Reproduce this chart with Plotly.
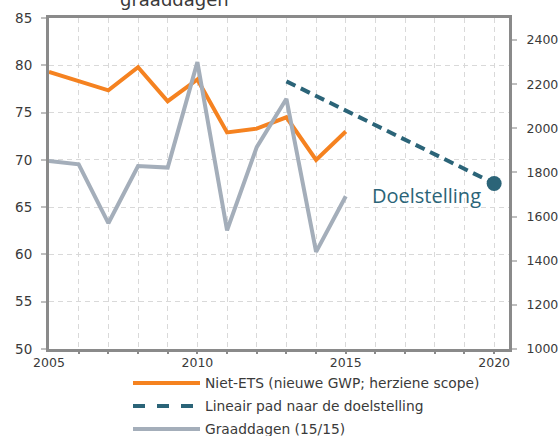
import plotly.graph_objects as go

years = [2005, 2006, 2007, 2008, 2009, 2010, 2011, 2012, 2013, 2014, 2015]
niet_ets = [79.3, 78.3, 77.35, 79.8, 76.2, 78.5, 72.9, 73.3, 74.5, 70.0, 73.0]
graaddagen = [1852, 1837, 1570, 1829, 1822, 2300, 1538, 1915, 2134, 1440, 1692]
pad_years = [2013, 2020]
pad_values = [78.3, 67.5]

legend_labels = ["Niet-ETS (nieuwe GWP; herziene scope)",
                 "Lineair pad naar de doelstelling",
                 "Graaddagen (15/15)"]
target_label = "Doelstelling"
title_text = "graaddagen"

ORANGE = "#f58220"
TEAL = "#2b6478"
GREY = "#a4aeba"
AXIS = "#8a8a8a"
GRID = "#d9d9d9"
TXT = "#3a3a3a"
FONT = "DejaVu Sans"

fig = go.Figure()
# invisible trace to activate the secondary x axis (yearly grid + ticks)
fig.add_trace(go.Scatter(x=[2005], y=[50], xaxis="x2", mode="markers",
                         marker=dict(opacity=0), showlegend=False, hoverinfo="skip"))
fig.add_trace(go.Scatter(x=years, y=graaddagen, yaxis="y2", mode="lines",
                         line=dict(color=GREY, width=4), showlegend=False))
fig.add_trace(go.Scatter(x=years, y=niet_ets, mode="lines",
                         line=dict(color=ORANGE, width=4), showlegend=False))
fig.add_trace(go.Scatter(x=pad_years, y=pad_values, mode="lines",
                         line=dict(color=TEAL, width=4, dash="10px,6px"),
                         showlegend=False))
fig.add_trace(go.Scatter(x=pad_years[-1:], y=pad_values[-1:], mode="markers",
                         marker=dict(color=TEAL, size=15), showlegend=False))

# plot area geometry (pixels)
L, R, T, B = 49, 509, 17.5, 349
W, H = 560, 436

def px(x):
    return (x - L) / (R - L)

def py(y):
    return (B - y) / (B - T)

shapes = []
annotations = []
styles = [dict(color=ORANGE, width=4), dict(color=TEAL, width=4, dash="dash"),
          dict(color=GREY, width=4)]
rows = [383, 406, 429]
for lab, st, yy in zip(legend_labels, styles, rows):
    shapes.append(dict(type="line", xref="paper", yref="paper",
                       x0=px(133), x1=px(200), y0=py(yy), y1=py(yy), line=st))
    annotations.append(dict(text=lab, xref="paper", yref="paper", x=px(203),
                            y=py(yy), xanchor="left", yanchor="middle",
                            showarrow=False, font=dict(family=FONT, size=13.8, color=TXT)))

annotations.append(dict(text=target_label, x=2020, y=pad_values[-1], xref="x", yref="y",
                        xanchor="right", yanchor="middle", xshift=-11, yshift=-12,
                        showarrow=False, font=dict(family="Open Sans", size=20, color=TEAL)))
annotations.append(dict(text=title_text, xref="paper", yref="paper", x=px(174),
                        y=py(11), xanchor="center", yanchor="bottom", showarrow=False,
                        font=dict(family=FONT, size=18, color=TXT)))

fig.update_layout(
    template="none",
    width=W, height=H,
    margin=dict(l=L, r=W - R, t=T, b=H - B, pad=0),
    plot_bgcolor="white", paper_bgcolor="white",
    font=dict(family=FONT, size=12.5, color=TXT),
    showlegend=False,
    shapes=shapes, annotations=annotations,
    xaxis=dict(range=[2005, 2020.5], tickvals=[2005, 2010, 2015, 2020], automargin=False,
               showgrid=False, zeroline=False,
               showline=True, linecolor=AXIS, linewidth=3, mirror=True,
               ticks="", ticklabelstandoff=0),
    xaxis2=dict(range=[2005, 2020.5], overlaying="x", matches="x", automargin=False,
                tickvals=list(range(2006, 2021)), showticklabels=False,
                showgrid=True, gridcolor=GRID, griddash="5px,4px", gridwidth=1,
                ticks="outside", ticklen=4, tickwidth=2, tickcolor=AXIS,
                showline=False, zeroline=False),
    yaxis=dict(range=[50, 85], dtick=5, tick0=50, showgrid=True, gridcolor=GRID,
               griddash="5px,4px", gridwidth=1, zeroline=False, automargin=False,
               showline=True, linecolor=AXIS, linewidth=3,
               ticks="outside", ticklen=5, tickwidth=2, tickcolor="#bfbfbf",
               ticklabelstandoff=6, tickfont=dict(size=13.5)),
    yaxis2=dict(range=[1000, 2500], tickvals=[1000, 1200, 1400, 1600, 1800, 2000, 2200, 2400],
                overlaying="y", side="right", showgrid=False, zeroline=False, automargin=False,
                showline=True, linecolor=AXIS, linewidth=3,
                ticks="outside", ticklen=5, tickwidth=2, tickcolor="#bfbfbf",
                ticklabelstandoff=7),
)

fig.write_html("out.html", config={"displayModeBar": False},
               post_script="document.body.style.margin='0';document.body.style.overflow='hidden';")
